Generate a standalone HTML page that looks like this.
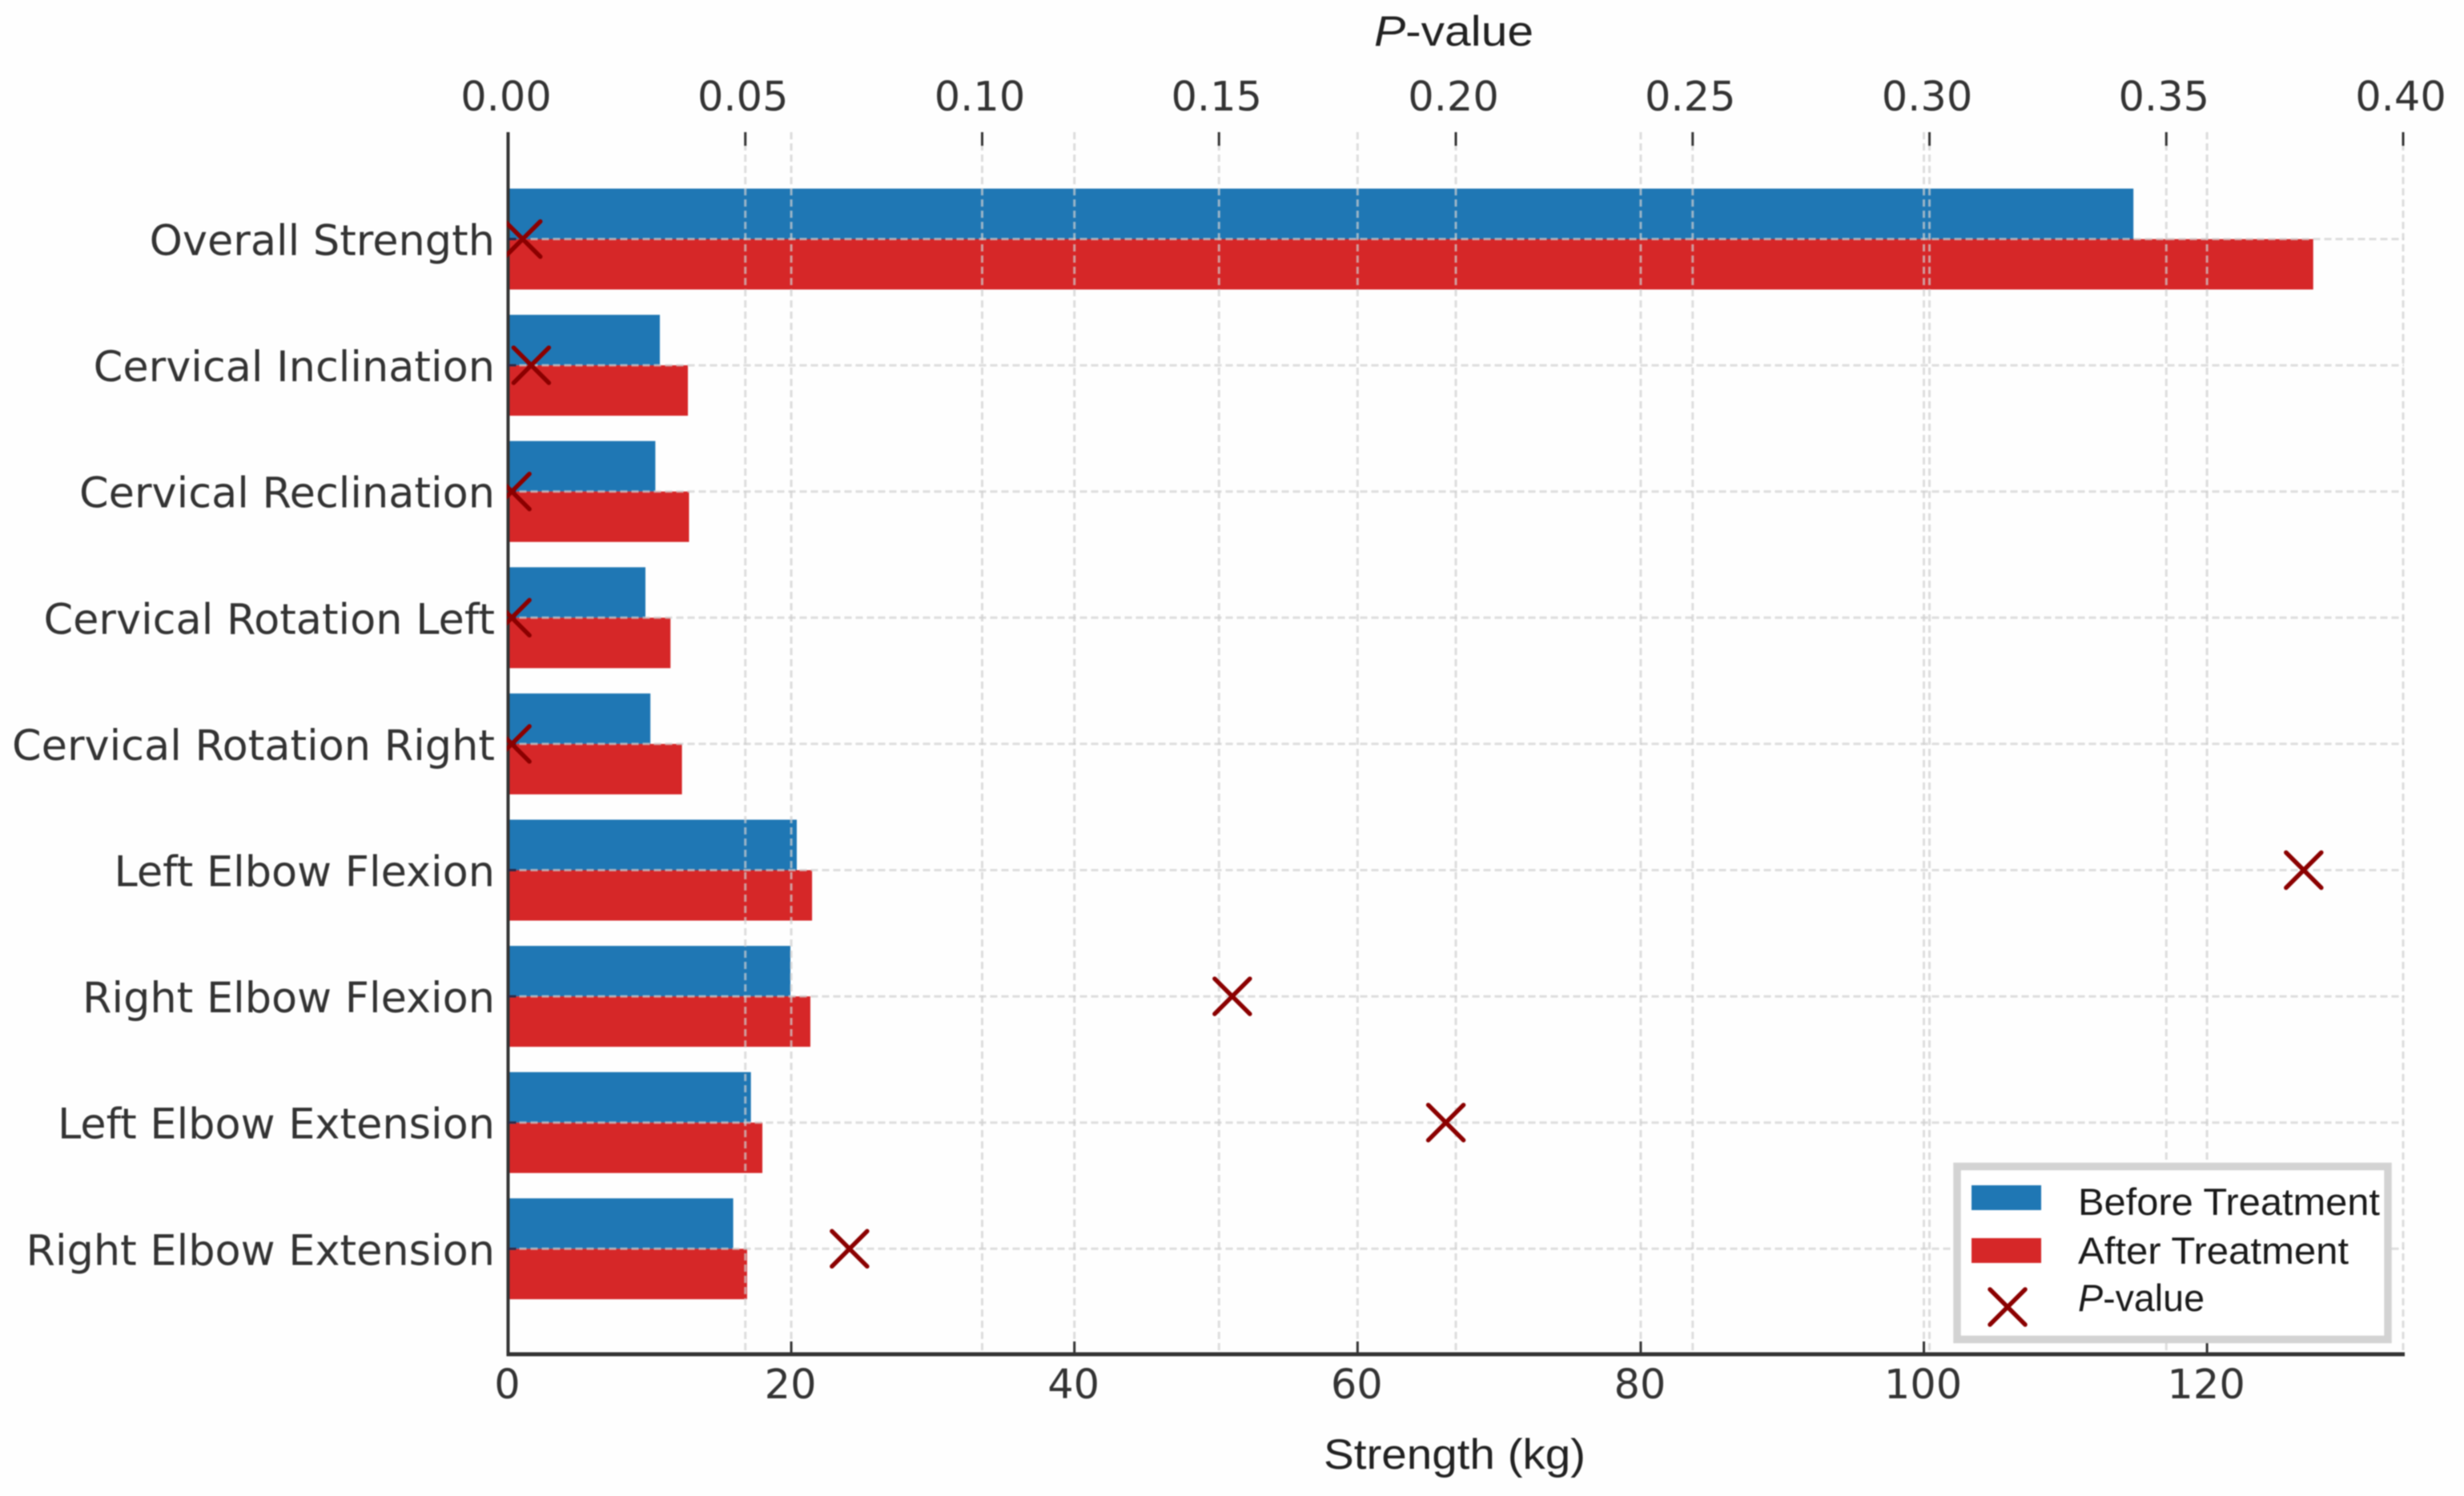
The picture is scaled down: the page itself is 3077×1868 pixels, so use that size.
<!DOCTYPE html>
<html lang="en">
<head>
<meta charset="utf-8">
<title>Strength before and after treatment with P-values</title>
<style>
  html, body { margin: 0; padding: 0; background: #fefefe; }
  body { width: 3077px; height: 1868px; overflow: hidden; }
  svg { display: block; filter: blur(0.8px); }
  .tick { font-family: "DejaVu Sans", sans-serif; font-size: 51px; fill: #333333; }
  .cat { font-family: "DejaVu Sans", sans-serif; font-size: 52.5px; fill: #333333; }
  .title { font-family: "Liberation Sans", sans-serif; font-size: 53px; fill: #222222; }
  .leg { font-family: "Liberation Sans", sans-serif; font-size: 47px; fill: #1a1a1a; }
</style>
</head>
<body>
<svg id="chart" xmlns="http://www.w3.org/2000/svg" width="3077" height="1868" viewBox="0 0 3077 1868">
  <defs>
    <clipPath id="plot-clip"><rect x="633" y="165" width="2370" height="1526"></rect></clipPath>
  </defs>
  <g id="bars"></g>
  <g id="grid"></g>
  <g id="axes"></g>
  <g id="markers" clip-path="url(#plot-clip)"></g>
  <g id="labels"></g>

  <text class="title" x="1716" y="57" textLength="199" lengthAdjust="spacingAndGlyphs"><tspan font-style="italic">P</tspan>-value</text>
  <text class="title" x="1653" y="1834" textLength="327" lengthAdjust="spacingAndGlyphs">Strength (kg)</text>

  <g>
    <rect x="2444" y="1456.5" width="538" height="216" fill="#ffffff" stroke="#d3d3d3" stroke-width="9.5"></rect>
    <rect x="2462" y="1480" width="87" height="31" fill="#1f77b4"></rect>
    <rect x="2462" y="1546" width="87" height="31" fill="#d62728"></rect>
    <path d="M2485 1610 L2529 1654 M2529 1610 L2485 1654" stroke="#8b0000" stroke-width="5.5" stroke-linecap="round" fill="none"></path>
    <text class="leg" x="2595" y="1517" textLength="377" lengthAdjust="spacingAndGlyphs">Before Treatment</text>
    <text class="leg" x="2595" y="1578" textLength="338" lengthAdjust="spacingAndGlyphs">After Treatment</text>
    <text class="leg" x="2595" y="1637" textLength="158" lengthAdjust="spacingAndGlyphs"><tspan font-style="italic">P</tspan>-value</text>
  </g>
</svg>

<script>
const categories = [
  "Overall Strength",
  "Cervical Inclination",
  "Cervical Reclination",
  "Cervical Rotation Left",
  "Cervical Rotation Right",
  "Left Elbow Flexion",
  "Right Elbow Flexion",
  "Left Elbow Extension",
  "Right Elbow Extension"
];
const beforeTreatment = [114.8, 10.72, 10.4, 9.7, 10.05, 20.39, 19.94, 17.15, 15.9];
const afterTreatment = [127.5, 12.7, 12.78, 11.47, 12.28, 21.47, 21.35, 17.96, 16.88];
const pValues = [0.003, 0.0048, 0.0007, 0.0007, 0.0007, 0.379, 0.1528, 0.1979, 0.072];
const strengthTicks = [0, 20, 40, 60, 80, 100, 120];
const pValueTicks = ["0.00", "0.05", "0.10", "0.15", "0.20", "0.25", "0.30", "0.35", "0.40"];

const SVGNS = "http://www.w3.org/2000/svg";
const plotLeft = 634.5, plotRight = 3002, plotTop = 165, plotBottom = 1691;
const xStrength = v => plotLeft + v * 17.68;
const xPValue = v => 635 + v * 5915;
const yRow = i => 298.5 + i * 157.6;
const barHeight = 63;
const markerSize = 22;

function make(tag, attrs, parent) {
  const el = document.createElementNS(SVGNS, tag);
  for (const k in attrs) el.setAttribute(k, attrs[k]);
  parent.appendChild(el);
  return el;
}

const barsG = document.getElementById("bars");
const gridG = document.getElementById("grid");
const axesG = document.getElementById("axes");
const markersG = document.getElementById("markers");
const labelsG = document.getElementById("labels");

/* bars */
categories.forEach((name, i) => {
  const before = make("rect", {
    x: xStrength(0), y: yRow(i) - barHeight,
    width: xStrength(beforeTreatment[i]) - xStrength(0), height: barHeight,
    fill: "#1f77b4"
  }, barsG);
  
  

  const after = make("rect", {
    x: xStrength(0), y: yRow(i),
    width: xStrength(afterTreatment[i]) - xStrength(0), height: barHeight,
    fill: "#d62728"
  }, barsG);
  
  
});

/* gridlines */
const gridStyle = { stroke: "#cfcfcf", "stroke-width": 3, "stroke-dasharray": "9 5", "stroke-opacity": 0.7 };
categories.forEach((name, i) => {
  const line = make("line", Object.assign({ x1: plotLeft, x2: plotRight, y1: yRow(i), y2: yRow(i) }, gridStyle), gridG);
  
  
});
strengthTicks.forEach(v => {
  const line = make("line", Object.assign({ x1: xStrength(v), x2: xStrength(v), y1: plotTop, y2: plotBottom }, gridStyle), gridG);
  
  
});
pValueTicks.forEach(v => {
  const line = make("line", Object.assign({ x1: xPValue(+v), x2: xPValue(+v), y1: plotTop, y2: plotBottom }, gridStyle), gridG);
  
  
});

/* axes */
const leftSpine = make("line", { x1: plotLeft, x2: plotLeft, y1: plotTop, y2: plotBottom + 2, stroke: "#333333", "stroke-width": 4 }, axesG);



const bottomSpine = make("line", { x1: plotLeft - 2, x2: plotRight + 1, y1: plotBottom, y2: plotBottom, stroke: "#333333", "stroke-width": 5 }, axesG);



strengthTicks.forEach(v => {
  const t = make("line", { x1: xStrength(v), x2: xStrength(v), y1: plotBottom - 16, y2: plotBottom, stroke: "#333333", "stroke-width": 3 }, axesG);
  
  

  const label = make("text", { x: xStrength(v) - 1, y: 1746, "text-anchor": "middle", class: "tick" }, labelsG);
  label.textContent = String(v);
  
  
});

pValueTicks.forEach(v => {
  const t = make("line", { x1: xPValue(+v), x2: xPValue(+v), y1: plotTop, y2: plotTop + 17, stroke: "#333333", "stroke-width": 3 }, axesG);
  
  

  const label = make("text", { x: xPValue(+v) - 3, y: 138, "text-anchor": "middle", class: "tick" }, labelsG);
  label.textContent = v;
  
  
});

categories.forEach((name, i) => {
  const t = make("line", { x1: plotLeft, x2: plotLeft + 10, y1: yRow(i), y2: yRow(i), stroke: "#2a2a4a", "stroke-width": 3 }, axesG);
  
  

  const label = make("text", { x: 618, y: yRow(i) + 20, "text-anchor": "end", class: "cat" }, labelsG);
  label.textContent = name;
  
  
});

/* p-value markers */
pValues.forEach((p, i) => {
  const cx = xPValue(p), cy = yRow(i), s = markerSize;
  const mark = make("path", {
    d: `M${cx - s} ${cy - s} L${cx + s} ${cy + s} M${cx + s} ${cy - s} L${cx - s} ${cy + s}`,
    stroke: "#8b0000", "stroke-width": 5.5, "stroke-linecap": "round", fill: "none"
  }, markersG);
  
  
});
</script>
</body>
</html>
